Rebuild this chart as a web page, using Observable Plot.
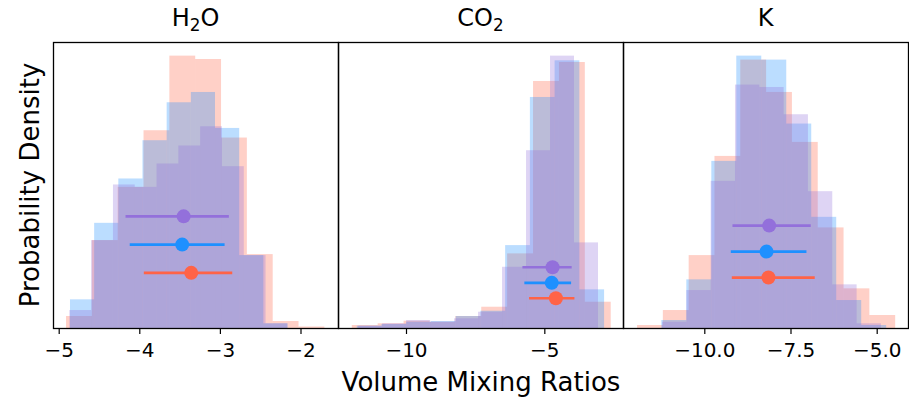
<!DOCTYPE html>
<html><head><meta charset="utf-8">
<script src="https://cdn.jsdelivr.net/npm/d3@7"></script>
<script src="https://cdn.jsdelivr.net/npm/@observablehq/plot@0.6"></script>
<style>
body{margin:0;background:#fff;font-family:"DejaVu Sans",sans-serif;}
#wrap{position:relative;width:909px;height:402px;overflow:hidden;background:#fff;}
.panel{position:absolute;top:0;}
.panel svg{overflow:visible;}
.title{position:absolute;top:6px;font-size:24px;transform:translateX(-50%);white-space:nowrap;line-height:1;color:#000;}
.title .sub{font-size:70%;position:relative;top:0.3em;}
.xlabel{position:absolute;left:481px;top:369px;font-size:26px;transform:translateX(-50%);white-space:nowrap;line-height:1;}
.ylabel{position:absolute;left:30px;top:185px;font-size:26px;transform:translate(-50%,-50%) rotate(-90deg);white-space:nowrap;line-height:1;}
</style></head><body><div id="wrap"></div>
<script>
// Series colours (matplotlib named colours)
const seriesKeys = ["red", "blue", "purple"];
const seriesColors = {red: "#FF6347", blue: "#1E90FF", purple: "#9370DB"};

// Panel titles (HTML, subscripts)
const panelTitles = ["H<span class='sub'>2</span>O", "CO<span class='sub'>2</span>", "K"];

// Histogram ranges [first edge, last edge] and bin heights (probability density, arbitrary units)
const h2oRanges  = {red: [-4.909, -1.704], blue: [-4.860, -2.161], purple: [-4.868, -2.163]};
const h2oHeights = {
  red:    [12, 88, 141.3, 198, 272.7, 269.3, 190.7, 74, 7, 1.5],
  blue:   [28.7, 105.3, 149.7, 188, 226, 236.3, 200.3, 73, 4.7],
  purple: [18, 88, 143.7, 141.3, 164.7, 182.7, 202, 162, 73, 4.7]
};
const co2Ranges  = {red: [-11.96, -2.60], blue: [-11.78, -2.84], purple: [-11.73, -3.06]};
const co2Heights = {
  red:    [3, 4.7, 7.3, 6.3, 12, 21.3, 74.7, 247.3, 266.3, 26.3],
  blue:   [2.3, 4, 6.3, 7, 12, 17.3, 83, 231.3, 268, 38.7],
  purple: [2.3, 4.7, 8, 6.3, 9.7, 16.3, 61.3, 178, 272.7, 85.7]
};
const kRanges  = {red: [-11.951, -4.464], blue: [-11.246, -4.725], purple: [-11.226, -4.878]};
const kHeights = {
  red:    [3, 18, 73, 172.3, 268.7, 236.3, 186.3, 100.7, 39.7, 13],
  blue:   [8, 48.7, 167.3, 272.7, 268.7, 204.7, 111.3, 28, 3],
  purple: [6.3, 38, 147.3, 243.7, 241.3, 214, 137, 43.7, 4.7]
};

// Median and 1-sigma interval of each retrieval, and the level at which it is drawn
const h2oStats = [
  {s: "purple", med: -3.456, lo: -4.177, hi: -2.895, level: 112.3},
  {s: "blue",   med: -3.474, lo: -4.125, hi: -2.948, level: 84},
  {s: "red",    med: -3.362, lo: -3.950, hi: -2.853, level: 55.7}
];
const co2Stats = [
  {s: "purple", med: -4.72, lo: -5.81, hi: -4.03, level: 61.3},
  {s: "blue",   med: -4.75, lo: -5.74, hi: -4.05, level: 45.7},
  {s: "red",    med: -4.60, lo: -5.57, hi: -3.93, level: 30.3}
];
const kStats = [
  {s: "purple", med: -8.133, lo: -9.197, hi: -6.928, level: 103},
  {s: "blue",   med: -8.21,  lo: -9.246, hi: -7.052, level: 77},
  {s: "red",    med: -8.154, lo: -9.217, hi: -6.812, level: 51}
];

// Axis extents and tick values
const xDomains = [[-5.0707, -1.5347], [-12.458, -2.156], [-12.358, -4.092]];
const xTicks = [[-5, -4, -3, -2], [-10, -5], [-10, -7.5, -5]];
const xTickFormats = [d3.format("d"), d3.format("d"), d3.format(".1f")];

const panels = [
  {ranges: h2oRanges, heights: h2oHeights, stats: h2oStats},
  {ranges: co2Ranges, heights: co2Heights, stats: co2Stats},
  {ranges: kRanges, heights: kHeights, stats: kStats}
];

function binsOf(ranges, heights) {
  const out = [];
  for (const s of seriesKeys) {
    const [a, b] = ranges[s];
    const hs = heights[s];
    const w = (b - a) / hs.length;
    hs.forEach((h, i) => out.push({s, x1: a + i * w, x2: a + (i + 1) * w, h}));
  }
  return out;
}

const wrap = document.getElementById("wrap");
const lefts = [53, 338, 623];
const W = 285, TOP = 42, BOTTOM = 328, H = 402;

panels.forEach((p, k) => {
  const bins = binsOf(p.ranges, p.heights);
  const ymax = d3.max(bins, d => d.h) * 1.05;
  const chart = Plot.plot({
    width: W, height: H,
    marginLeft: 0, marginRight: 0, marginTop: TOP, marginBottom: H - BOTTOM,
    style: {fontFamily: "DejaVu Sans, sans-serif", fontSize: "20px", color: "#000", background: "transparent", overflow: "visible"},
    x: {domain: xDomains[k], ticks: xTicks[k], tickFormat: xTickFormats[k], tickSize: 6, tickPadding: 9, label: null},
    y: {domain: [0, ymax], axis: null},
    marks: [
      Plot.rectY(bins, {x1: "x1", x2: "x2", y1: 0, y2: "h", fill: d => seriesColors[d.s], fillOpacity: 0.3, insetLeft: 0, insetRight: 0}),
      Plot.link(p.stats, {x1: "lo", x2: "hi", y1: "level", y2: "level", stroke: d => seriesColors[d.s], strokeWidth: 2.7}),
      Plot.dot(p.stats, {x: "med", y: "level", r: 7, fill: d => seriesColors[d.s], stroke: "none"}),
      Plot.frame({stroke: "#000", strokeWidth: 1.3}),
      Plot.axisX({ticks: xTicks[k], tickFormat: xTickFormats[k], tickSize: 6, tickPadding: 8, fontSize: 20, strokeWidth: 1.2})
    ]
  });
  const div = document.createElement("div");
  div.className = "panel";
  div.style.left = lefts[k] + "px";
  div.appendChild(chart);
  wrap.appendChild(div);

  const t = document.createElement("div");
  t.className = "title";
  t.style.left = (lefts[k] + W / 2) + "px";
  t.innerHTML = panelTitles[k];
  wrap.appendChild(t);
});

const xl = document.createElement("div");
xl.className = "xlabel"; xl.textContent = "Volume Mixing Ratios";
wrap.appendChild(xl);
const yl = document.createElement("div");
yl.className = "ylabel"; yl.textContent = "Probability Density";
wrap.appendChild(yl);
</script>
</body></html>
